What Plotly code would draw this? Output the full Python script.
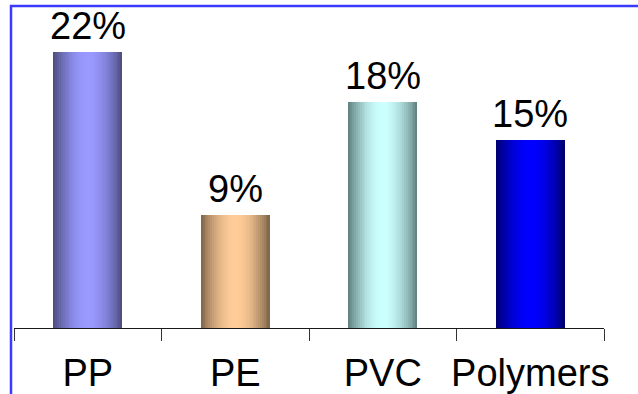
import plotly.graph_objects as go
import math

# Market share by material
categories = ["PP", "PE", "PVC", "Polymers"]
values = [22, 9, 18, 15]
value_labels = ["22%", "9%", "18%", "15%"]

# Cylinder-style shading: bright centre colour and darker edge colour per bar
light_colors = ["#9999FF", "#FFCC99", "#CCFFFF", "#0000FF"]
dark_colors = ["#4A4A7C", "#7C6247", "#5E7C7C", "#00006A"]

BAR_WIDTH = 0.468
N_STRIPS = 36
FONT = "Arial, Liberation Sans, sans-serif"


def hex_to_rgb(h):
    h = h.lstrip("#")
    return tuple(int(h[i:i + 2], 16) for i in (0, 2, 4))


def blend(c0, c1, f):
    a, b = hex_to_rgb(c0), hex_to_rgb(c1)
    return "rgb({},{},{})".format(*(round(a[i] + (b[i] - a[i]) * f) for i in range(3)))


fig = go.Figure()

# Each bar is painted as a set of thin vertical strips so that it gets a
# horizontal dark-light-dark gradient.
step = BAR_WIDTH / N_STRIPS
for k in range(N_STRIPS):
    t = (k + 0.5) / N_STRIPS
    f = math.sin(math.pi * t) ** 0.9
    colors = [blend(d, l, f) for d, l in zip(dark_colors, light_colors)]
    w = step if k == N_STRIPS - 1 else step * 1.6
    fig.add_trace(go.Bar(
        x=categories,
        y=values,
        width=w,
        offset=-BAR_WIDTH / 2 + k * step,
        marker=dict(color=colors, line=dict(width=0)),
        showlegend=False,
        hoverinfo="skip",
        cliponaxis=False,
    ))

for cat, v, lab in zip(categories, values, value_labels):
    fig.add_annotation(
        x=cat, y=v, text=lab, showarrow=False,
        yanchor="bottom", yshift=3,
        font=dict(family=FONT, size=38, color="#000000"),
    )

# Blue frame around the chart
fig.add_shape(
    type="rect", xref="paper", yref="paper",
    x0=-3 / 590, x1=1.2, y0=-0.5, y1=1.0,
    line=dict(color="#3A3AFF", width=2.5),
    fillcolor="rgba(0,0,0,0)", layer="below",
)

fig.update_layout(
    width=638, height=394,
    margin=dict(l=14, r=34, t=6, b=66, autoexpand=False),
    paper_bgcolor="#FFFFFF", plot_bgcolor="#FFFFFF",
    barmode="overlay",
    bargap=0,
    font=dict(family=FONT, color="#000000"),
    xaxis=dict(
        type="category",
        range=[-0.5, 3.5],
        showline=True, linecolor="#1A1A1A", linewidth=1,
        ticks="outside", ticklen=12, tickcolor="#333333", tickwidth=1,
        tickson="boundaries",
        tickangle=0,
        tickfont=dict(family=FONT, size=38, color="#000000"),
        ticklabelstandoff=11,
        showgrid=False, zeroline=False, automargin=False,
    ),
    yaxis=dict(
        range=[0, 322 / 12.55],
        visible=False, showgrid=False, zeroline=False,
    ),
)

fig.write_html("out.html")
